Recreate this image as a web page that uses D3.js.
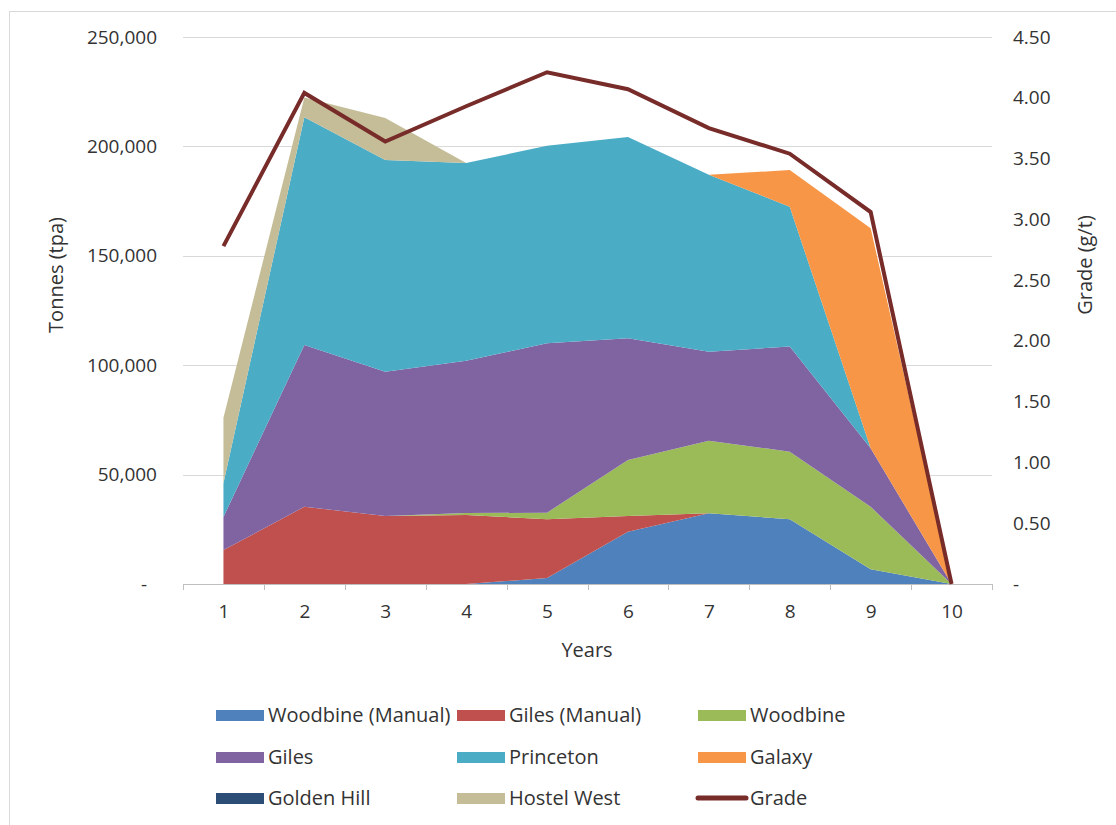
<!DOCTYPE html>
<html>
<head>
<meta charset="utf-8">
<script src="https://cdn.jsdelivr.net/npm/d3@7"></script>
<style>
  body { margin: 0; background: #fff; }
  text { font-family: "Open Sans", Lato, sans-serif; fill: #333; }
</style>
</head>
<body>
<div id="chart"></div>
<script>
// Data
var years = [1, 2, 3, 4, 5, 6, 7, 8, 9, 10];
var woodbineManual = [0, 0, 0, 0, 2700, 23900, 32300, 29600, 6700, 0];
var gilesManual    = [15500, 35300, 31100, 31500, 26900, 7200, 0, 0, 0, 0];
var woodbine       = [0, 0, 0, 900, 3000, 25600, 33200, 30900, 28600, 0];
var giles          = [15100, 73900, 65900, 69600, 77400, 55600, 40700, 48000, 26700, 0];
var princeton      = [15400, 104100, 96800, 90400, 90300, 92000, 80800, 63900, 0, 0];
var galaxy         = [0, 0, 0, 0, 0, 0, 0, 16800, 100600, 0];
var goldenHill     = [0, 0, 0, 0, 0, 0, 0, 0, 0, 0];
var hostelWest     = [30000, 9000, 19200, 0, 0, 0, 0, 0, 0, 0];
var grade          = [2.78, 4.04, 3.64, 3.93, 4.21, 4.07, 3.75, 3.54, 3.06, 0];

var seriesNames = ["Woodbine (Manual)", "Giles (Manual)", "Woodbine", "Giles",
                   "Princeton", "Galaxy", "Golden Hill", "Hostel West"];
var seriesValues = [woodbineManual, gilesManual, woodbine, giles,
                    princeton, galaxy, goldenHill, hostelWest];
var colors = ["#4F81BD", "#C0504D", "#9BBB59", "#8064A2",
              "#4BACC6", "#F79646", "#2C4D75", "#C4BD97"];
var gradeColor = "#772C2A";

var leftTicks = [0, 50000, 100000, 150000, 200000, 250000];
var rightTicks = [0, 0.5, 1, 1.5, 2, 2.5, 3, 3.5, 4, 4.5];

// Layout
var svgWidth = 1116;
var svgHeight = 825;
var plot = { left: 183, right: 992, top: 37, bottom: 584 };

var svg = d3.select("#chart")
  .append("svg")
  .attr("width", svgWidth)
  .attr("height", svgHeight);

// chart frame (left and top edges visible)
svg.append("rect")
  .attr("x", 9.5).attr("y", 11.5)
  .attr("width", 1200).attr("height", 900)
  .attr("fill", "#fff")
  .attr("stroke", "#D9D9D9");

// table for the stack
var table = years.map(function (yr, i) {
  var row = { year: yr };
  seriesNames.forEach(function (name, k) { row[name] = seriesValues[k][i]; });
  row.grade = grade[i];
  return row;
});

var x = d3.scalePoint()
  .domain(years)
  .range([plot.left, plot.right])
  .padding(0.5);

var xBand = d3.scaleBand()
  .domain(years)
  .range([plot.left, plot.right]);

var y = d3.scaleLinear()
  .domain([0, 250000])
  .range([plot.bottom, plot.top]);

var y2 = d3.scaleLinear()
  .domain([0, 4.5])
  .range([plot.bottom, plot.top]);

// gridlines
svg.append("g")
  .selectAll("line")
  .data(leftTicks.filter(function (d) { return d > 0; }))
  .enter()
  .append("line")
  .attr("x1", plot.left).attr("x2", plot.right)
  .attr("y1", function (d) { return Math.round(y(d)) + 0.5; })
  .attr("y2", function (d) { return Math.round(y(d)) + 0.5; })
  .attr("stroke", "#D9D9D9");

// stacked areas
var stack = d3.stack().keys(seriesNames);
var layers = stack(table);

var area = d3.area()
  .x(function (d) { return x(d.data.year); })
  .y0(function (d) { return y(d[0]); })
  .y1(function (d) { return y(d[1]); });

svg.append("g")
  .selectAll("path")
  .data(layers)
  .enter()
  .append("path")
  .attr("d", area)
  .attr("fill", function (d, i) { return colors[i]; });

// x axis
svg.append("line")
  .attr("x1", plot.left).attr("x2", plot.right)
  .attr("y1", plot.bottom + 0.5).attr("y2", plot.bottom + 0.5)
  .attr("stroke", "#BFBFBF");

var edges = years.map(function (d) { return xBand(d); }).concat([plot.right]);
svg.append("g")
  .selectAll("line")
  .data(edges)
  .enter()
  .append("line")
  .attr("x1", function (d) { return Math.round(d) + 0.5; })
  .attr("x2", function (d) { return Math.round(d) + 0.5; })
  .attr("y1", plot.bottom).attr("y2", plot.bottom + 6)
  .attr("stroke", "#BFBFBF");

var xAxis = d3.axisBottom(x).tickSize(0).tickPadding(21);
var gx = svg.append("g")
  .attr("transform", "translate(0," + plot.bottom + ")")
  .call(xAxis);
gx.select(".domain").remove();
gx.selectAll("text").style("font-size", "19px").attr("fill", "#333");

// left axis
var yAxis = d3.axisLeft(y)
  .tickValues(leftTicks)
  .tickSize(0)
  .tickPadding(26)
  .tickFormat(function (d) { return d === 0 ? "-" : d3.format(",")(d); });
var gy = svg.append("g")
  .attr("transform", "translate(" + plot.left + ",0)")
  .call(yAxis);
gy.select(".domain").remove();
gy.selectAll("text").style("font-size", "19px").attr("fill", "#333")
  .attr("dx", function (d) { return d === 0 ? -10 : 0; });

// right axis
var y2Axis = d3.axisRight(y2)
  .tickValues(rightTicks)
  .tickSize(0)
  .tickPadding(21)
  .tickFormat(function (d) { return d === 0 ? "-" : d3.format(".2f")(d); });
var gy2 = svg.append("g")
  .attr("transform", "translate(" + plot.right + ",0)")
  .call(y2Axis);
gy2.select(".domain").remove();
gy2.selectAll("text").style("font-size", "19px").attr("fill", "#333");

// grade line
var gradeLine = d3.line()
  .x(function (d) { return x(d.year); })
  .y(function (d) { return y2(d.grade); });

svg.append("path")
  .datum(table)
  .attr("d", gradeLine)
  .attr("fill", "none")
  .attr("stroke", gradeColor)
  .attr("stroke-width", 4)
  .attr("stroke-linejoin", "miter");

// axis titles
svg.append("text")
  .attr("transform", "translate(63,275) rotate(-90)")
  .attr("text-anchor", "middle")
  .style("font-size", "20px")
  .text("Tonnes (tpa)");

svg.append("text")
  .attr("transform", "translate(1092,265) rotate(-90)")
  .attr("text-anchor", "middle")
  .style("font-size", "20px")
  .text("Grade (g/t)");

svg.append("text")
  .attr("x", 587).attr("y", 657)
  .attr("text-anchor", "middle")
  .style("font-size", "20px")
  .text("Years");

// legend
var legendItems = seriesNames.concat(["Grade"]);
var legendColors = colors.concat([gradeColor]);
var colX = [216, 457, 698];
var rowY = [715, 757, 798];

var legend = svg.append("g")
  .selectAll("g")
  .data(legendItems)
  .enter()
  .append("g")
  .attr("transform", function (d, i) {
    return "translate(" + colX[i % 3] + "," + rowY[Math.floor(i / 3)] + ")";
  });

legend.each(function (d, i) {
  var g = d3.select(this);
  if (d === "Grade") {
    g.append("line")
      .attr("x1", 0).attr("x2", 48)
      .attr("y1", 0).attr("y2", 0)
      .attr("stroke", legendColors[i])
      .attr("stroke-width", 5)
      .attr("stroke-linecap", "round");
  } else {
    g.append("rect")
      .attr("x", 0).attr("y", -5)
      .attr("width", 48).attr("height", 11)
      .attr("fill", legendColors[i]);
  }
  g.append("text")
    .attr("x", 52).attr("y", 0)
    .attr("dy", "0.35em")
    .style("font-size", "20px")
    .text(d);
});
</script>
</body>
</html>
